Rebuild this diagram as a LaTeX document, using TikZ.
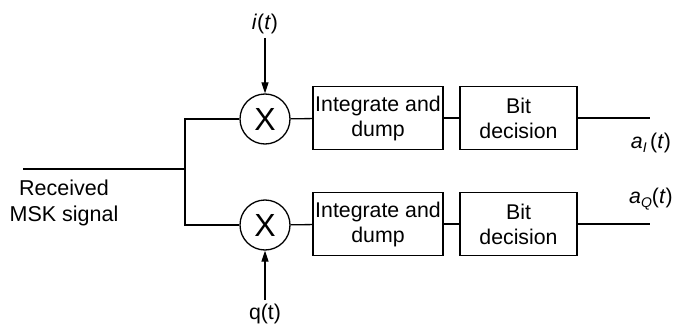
\documentclass[tikz,border=0pt]{standalone}
\usepackage{fontspec}
\setmainfont{Liberation Sans}
\usetikzlibrary{arrows.meta}
\begin{document}
\begin{tikzpicture}[x=1pt,y=-1pt,line width=1.3pt,
    every node/.style={font=\fontsize{21.3}{25}\selectfont},
    blk/.style={draw,minimum height=63pt,align=center,inner sep=0pt},
    mix/.style={draw,circle,minimum size=50pt,inner sep=0pt,font=\fontsize{32}{32}\selectfont},
    >={Triangle[length=11pt,width=7pt]}]
    \useasboundingbox (0,0) rectangle (675,329);

    % Entrada y reparto hacia las dos ramas.
    \coordinate (in) at (23,169);
    \coordinate (split) at (185,169);
    \node[align=center,font=\fontsize{21.5}{26}\selectfont] (rx) at (64,203) {Received\\MSK signal};

    % Rama I (arriba).
    \node[mix] (mixI) at (265,119) {X};
    \node[blk,minimum width=130pt] (intI) at (378,118) {Integrate and\\dump};
    \node[blk,minimum width=117pt] (bitI) at (518.5,118) {Bit\\decision};
    \coordinate (outI) at (650,118);
    \node (iref) at (265,24) {\textit{i}(\textit{t})};
    \node (aI) at (651,143) {\textit{a}\raisebox{-0.35ex}{\fontsize{14}{14}\selectfont\textit{I}}\,(\textit{t})};

    % Rama Q (abajo).
    \node[mix] (mixQ) at (265,225) {X};
    \node[blk,minimum width=130pt] (intQ) at (378,224) {Integrate and\\dump};
    \node[blk,minimum width=117pt] (bitQ) at (518.5,224) {Bit\\decision};
    \coordinate (outQ) at (650,224);
    \node (qref) at (265,314) {q(t)};
    \node (aQ) at (651,199) {\textit{a}\raisebox{-0.35ex}{\fontsize{14}{14}\selectfont\textit{Q}}(\textit{t})};

    % Conexiones.
    \draw (in) -- (split);
    \draw (split) |- (mixI);
    \draw (split) |- (mixQ);
    \draw (mixI) -- (intI);
    \draw (intI) -- (bitI);
    \draw (bitI) -- (outI);
    \draw (mixQ) -- (intQ);
    \draw (intQ) -- (bitQ);
    \draw (bitQ) -- (outQ);
    \draw[->] (iref) -- (mixI);
    \draw[->] (qref) -- (mixQ);
\end{tikzpicture}
\end{document}
